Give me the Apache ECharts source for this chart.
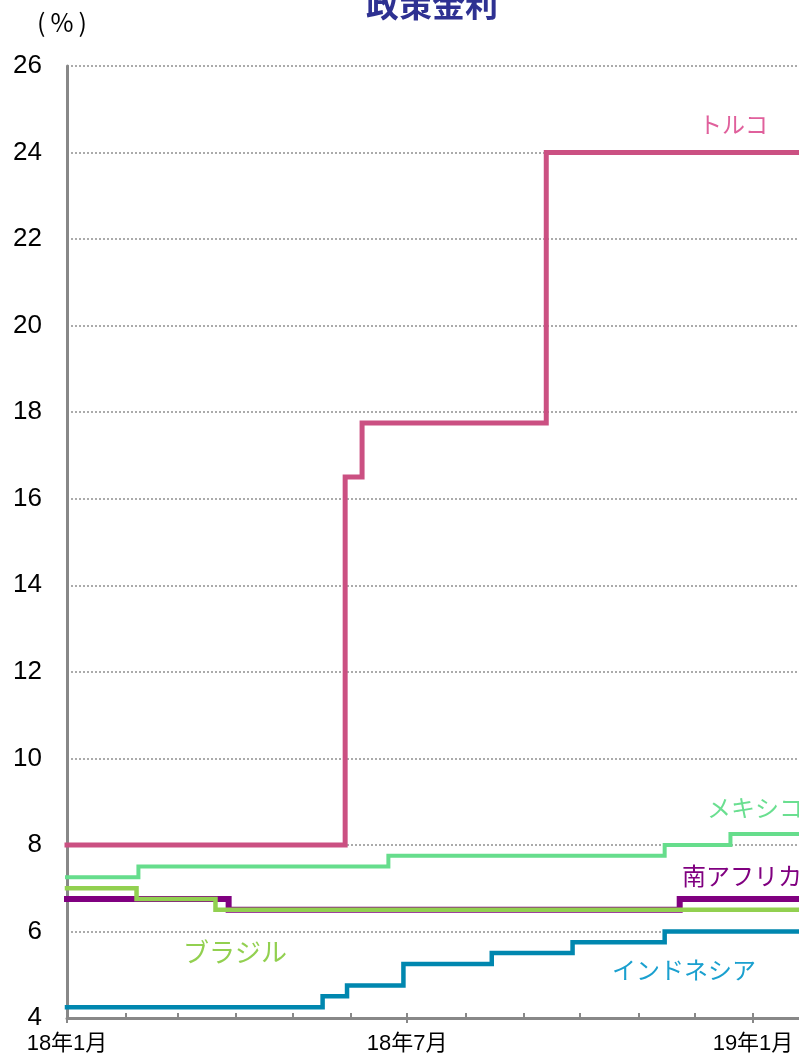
<!DOCTYPE html>
<html>
<head>
<meta charset="utf-8">
<script src="https://cdn.jsdelivr.net/npm/echarts@6/dist/echarts.min.js"></script>
<style>
  html, body { margin: 0; padding: 0; background: #fff; }
  #chart { width: 799px; height: 1060px; }
</style>
</head>
<body>
<div id="chart"></div>
<script>
// 政策金利 (policy rates), change dates and the rate from that date on
const startDate = '2018-01-01'
const endDate = '2019-02-10'

const turkeyDates = ['2018-01-01', '2018-05-29', '2018-06-07', '2018-09-13', endDate]
const turkeyRates = [8, 16.5, 17.75, 24, 24]

const mexicoDates = ['2018-01-01', '2018-02-08', '2018-06-21', '2018-11-15', '2018-12-20', endDate]
const mexicoRates = [7.25, 7.5, 7.75, 8, 8.25, 8.25]

const brazilDates = ['2018-01-01', '2018-02-07', '2018-03-21', endDate]
const brazilRates = [7, 6.75, 6.5, 6.5]

const safricaDates = ['2018-01-01', '2018-03-28', '2018-11-23', endDate]
const safricaRates = [6.75, 6.5, 6.75, 6.75]

const indonesiaDates = ['2018-01-01', '2018-05-17', '2018-05-30', '2018-06-29', '2018-08-15', '2018-09-27', '2018-11-15', endDate]
const indonesiaRates = [4.25, 4.5, 4.75, 5.25, 5.5, 5.75, 6, 6]

// axis ticks
const monthTicks = ['2018-01-01', '2018-02-01', '2018-03-01', '2018-04-01', '2018-05-01', '2018-06-01',
  '2018-07-01', '2018-08-01', '2018-09-01', '2018-10-01', '2018-11-01', '2018-12-01', '2019-01-01']
const labelDates = ['2018-01-01', '2018-07-01', '2019-01-01']
const xLabels = ['18年1月', '18年7月', '19年1月']

const DAY = 86400000
const dayOf = d => (Date.parse(d) - Date.parse(startDate)) / DAY
const pairs = (dates, rates) => dates.map((d, i) => [dayOf(d), rates[i]])

const jpFont = "'Noto Sans CJK JP', sans-serif"
const numFont = "'Liberation Sans', Arial, sans-serif"
// the picture is cut at the right edge: 18年1月 sits at x=67, 19年1月 at x=753
const pxPerDay = (753 - 67) / 365
const xMax = (799 - 67) / pxPerDay

const labelDays = labelDates.map(dayOf)

const chart = echarts.init(document.getElementById('chart'))

function line(name, data, color, width) {
  return {
    name: name,
    type: 'line',
    step: 'end',
    showSymbol: false,
    symbol: 'none',
    clip: true,
    data: data,
    lineStyle: { color: color, width: width, cap: 'square', join: 'miter' },
    itemStyle: { color: color }
  }
}

function tag(text, x, y, color, size) {
  return {
    type: 'text',
    x: x,
    y: y,
    style: {
      text: text,
      fill: color,
      font: (size || 24) + 'px ' + jpFont,
      align: 'left',
      verticalAlign: 'middle'
    }
  }
}

chart.setOption({
  animation: false,
  grid: {
    left: 67,
    top: 66,
    height: 952,
    right: 0
  },
  xAxis: [{
    type: 'value',
    min: 0,
    max: xMax,
    axisLine: { show: true, lineStyle: { color: '#888888', width: 3 } },
    axisTick: {
      show: true,
      inside: true,
      length: 5,
      customValues: monthTicks.map(dayOf),
      lineStyle: { color: '#888888', width: 2 }
    },
    axisLabel: {
      show: true,
      customValues: labelDays,
      formatter: v => xLabels[labelDays.indexOf(Math.round(v))] || '',
      color: '#000',
      fontSize: 22,
      fontFamily: numFont + ", 'Noto Sans CJK JP'",
      margin: 15
    },
    splitLine: { show: false }
  }, {
    type: 'value',
    min: 0,
    max: xMax,
    position: 'bottom',
    offset: -5,
    axisLine: { show: false },
    axisTick: {
      show: true,
      inside: false,
      length: 10,
      customValues: labelDays,
      lineStyle: { color: '#888888', width: 2 }
    },
    axisLabel: { show: false },
    splitLine: { show: false }
  }],
  yAxis: {
    type: 'value',
    min: 4,
    max: 26,
    interval: 2,
    axisLine: { show: true, lineStyle: { color: '#888888', width: 3 } },
    axisTick: { show: false },
    axisLabel: { color: '#000', fontSize: 26, fontFamily: numFont, margin: 25 },
    splitLine: { show: true, lineStyle: { color: '#909090', width: 1.5, type: [2, 2] } }
  },
  series: [
    line('インドネシア', pairs(indonesiaDates, indonesiaRates), '#0087AF', 4.5),
    line('南アフリカ', pairs(safricaDates, safricaRates), '#800080', 6),
    line('ブラジル', pairs(brazilDates, brazilRates), '#92D050', 4.5),
    line('メキシコ', pairs(mexicoDates, mexicoRates), '#66DD8C', 4),
    line('トルコ', pairs(turkeyDates, turkeyRates), '#CB5082', 5)
  ],
  graphic: [
    {
      type: 'text',
      x: 432,
      y: 4,
      style: {
        text: '政策金利',
        fill: '#2E3192',
        font: 'bold 33px ' + jpFont,
        align: 'center',
        verticalAlign: 'middle'
      }
    },
    {
      type: 'text',
      x: 37,
      y: 22,
      style: {
        text: '(\u2009%\u2009)',
        fill: '#000',
        font: '25px ' + jpFont,
        align: 'left',
        verticalAlign: 'middle'
      }
    },
    tag('トルコ', 699, 124, '#E0609C', 23),
    tag('メキシコ', 707, 808, '#6ADF90', 24),
    tag('南アフリカ', 682, 876, '#800080', 24),
    tag('ブラジル', 183, 952, '#92D050', 26),
    tag('インドネシア', 612, 970, '#1AA0CF', 24)
  ]
})
</script>
</body>
</html>
